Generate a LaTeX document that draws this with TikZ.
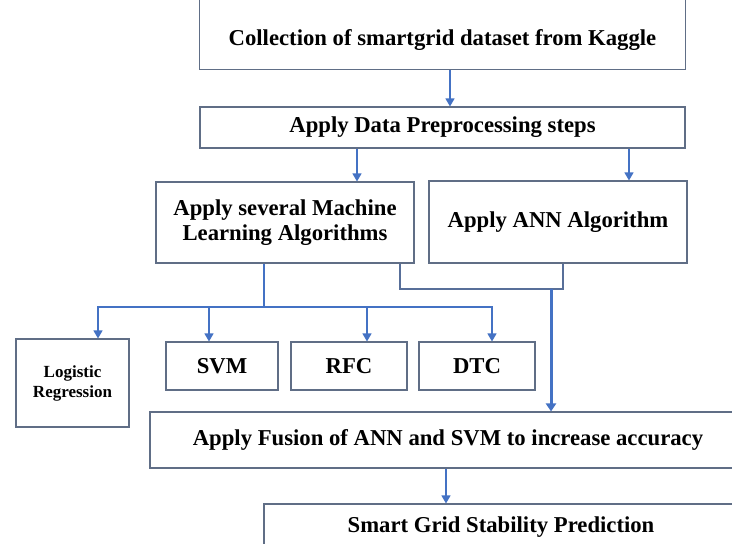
\documentclass[tikz,border=0pt]{standalone}
\usepackage{fontspec}
\setmainfont{Liberation Serif}
\usetikzlibrary{arrows.meta}
\definecolor{boxc}{RGB}{96,110,134}
\definecolor{arrc}{RGB}{68,114,196}
\begin{document}
\begin{tikzpicture}[x=1pt,y=-1pt,
  box/.style={draw=boxc,line width=1.1pt,inner sep=0pt,align=center,font=\bfseries\fontsize{22.7}{25}\selectfont},
  arr/.style={draw=arrc,line width=1.2pt,-{Triangle[length=8pt,width=9pt]}},
  conn/.style={draw=arrc,line width=1.2pt},
  jline/.style={draw=boxc!70!arrc,line width=1.2pt},
  thickarr/.style={draw=arrc,line width=3pt,-{Triangle[length=8pt,width=10pt]}}]
\useasboundingbox (0,0) rectangle (732,544);
\clip (0,0) rectangle (732,544);
\fill[white] (0,0) rectangle (732,544);
% boxes
\node[box,draw=none,minimum width=485pt,minimum height=58pt] (b1) at (442.5,40) {Collection of smartgrid dataset from Kaggle};
\draw[boxc,line width=1.1pt] ([yshift=14pt]b1.north west) -- (b1.south west) -- (b1.south east) -- ([yshift=14pt]b1.north east);
\node[box,minimum width=485pt,minimum height=41pt] (b2) at (442.5,127.5) {Apply Data Preprocessing steps};
\node[box,minimum width=258pt,minimum height=81pt] (ml) at (285,222.5) {Apply several Machine\\Learning Algorithms};
\node[box,minimum width=258pt,minimum height=82pt] (ann) at (558,222) {Apply ANN Algorithm};
\node[box,minimum width=113pt,minimum height=88pt,font=\bfseries\fontsize{17}{20}\selectfont] (lr) at (72.5,383) {Logistic\\Regression};
\node[box,minimum width=112pt,minimum height=48pt] (svm) at (222,366) {SVM};
\node[box,minimum width=116pt,minimum height=48pt] (rfc) at (349,366) {RFC};
\node[box,minimum width=116pt,minimum height=48pt] (dtc) at (477,366) {DTC};
\node[box,minimum width=596pt,minimum height=56pt] (fus) at (448,440) {Apply Fusion of ANN and SVM to increase accuracy};
\node[box,minimum width=474pt,minimum height=46pt] (sg) at (501,527) {Smart Grid Stability Prediction};
% connectors
\draw[arr] ([xshift=7.5pt]b1.south) -- ([xshift=7.5pt]b1.south |- b2.north);
\draw[arr] ([xshift=72pt]ml.north |- b2.south) -- ([xshift=72pt]ml.north);
\draw[arr] ([xshift=71pt]ann.north |- b2.south) -- ([xshift=71pt]ann.north);
\coordinate (br) at (264,307);
\draw[conn] (ml.south -| br) -- (br);
\draw[arr] (br) -| ([xshift=25.5pt]lr.north);
\draw[arr] (br) -| ([xshift=-13pt]svm.north);
\draw[arr] (br) -| ([xshift=18pt]rfc.north);
\draw[arr] (br) -| ([xshift=15pt]dtc.north);
\coordinate (jn) at (551,289);
\draw[jline] ([xshift=115pt]ml.south) |- (jn) -| ([xshift=5pt]ann.south);
\draw[thickarr] (jn) -- (jn |- fus.north);
\draw[arr] ([xshift=-2pt]fus.south) -- ([xshift=-2pt]fus.south |- sg.north);
\end{tikzpicture}
\end{document}
